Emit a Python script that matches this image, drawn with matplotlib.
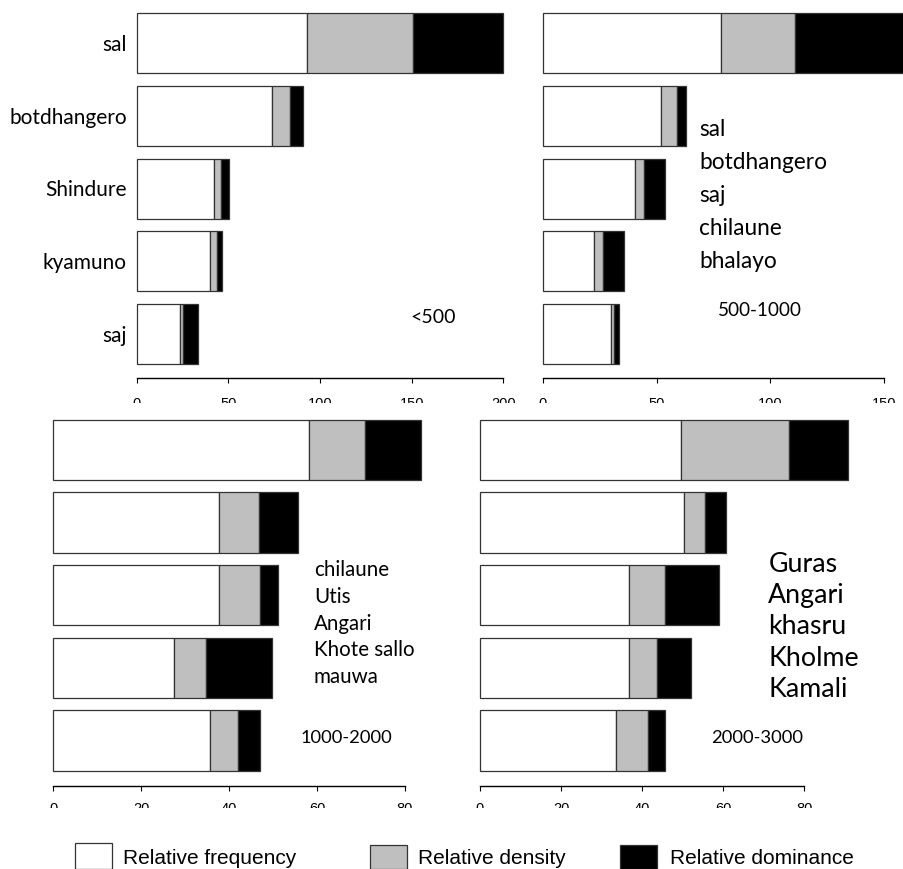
import matplotlib
matplotlib.use("Agg")
import matplotlib.pyplot as plt
from matplotlib.patches import Rectangle

# ---- data -------------------------------------------------------------
series_names = ["Relative frequency", "Relative density", "Relative dominance"]
series_colors = ["white", "#bfbfbf", "black"]

zone_lt500 = "<500"
species_lt500 = ["sal", "botdhangero", "Shindure", "kyamuno", "saj"]
freq_lt500 = [93.0, 74.0, 42.4, 40.2, 23.5]
dens_lt500 = [57.5, 9.5, 3.8, 3.6, 1.8]
dom_lt500 = [49.5, 7.3, 4.0, 2.9, 8.1]

zone_500_1000 = "500-1000"
species_500_1000 = ["sal", "botdhangero", "saj", "chilaune", "bhalayo"]
freq_500_1000 = [78.3, 52.0, 40.7, 22.5, 30.1]
dens_500_1000 = [32.6, 7.1, 3.8, 4.1, 1.1]
dom_500_1000 = [50.0, 3.7, 9.1, 9.2, 2.4]

zone_1000_2000 = "1000-2000"
species_1000_2000 = ["chilaune", "Utis", "Angari", "Khote sallo", "mauwa"]
freq_1000_2000 = [58.2, 37.6, 37.6, 27.4, 35.6]
dens_1000_2000 = [12.7, 9.2, 9.4, 7.3, 6.5]
dom_1000_2000 = [12.7, 8.9, 4.0, 15.0, 4.9]

zone_2000_3000 = "2000-3000"
species_2000_3000 = ["Guras", "Angari", "khasru", "Kholme", "Kamali"]
freq_2000_3000 = [49.5, 50.4, 36.7, 36.7, 33.5]
dens_2000_3000 = [26.7, 5.2, 8.9, 7.0, 7.9]
dom_2000_3000 = [14.5, 5.1, 13.3, 8.3, 4.2]

ticks_lt500 = [0, 50, 100, 150, 200]
ticks_500_1000 = [0, 50, 100, 150]
ticks_high = [0, 20, 40, 60, 80]

# ---- layout helpers (figure pixels, origin top-left) -------------------
W, H = 904, 869
fig = plt.figure(figsize=(W / 100, H / 100), dpi=100)

LABEL_FONT = "Lato"
TICK_FONT = "Liberation Sans"
EDGE = "#333333"


def fx(px):
    return px / W


def fy(py):
    return 1 - py / H


def stacked_panel(x0_px, x1_px, axis_y_px, top_px, first_center_px, pitch_px,
                  bar_px, xmax, ticks, freq, dens, dom, tick_pad,
                  names=None):
    ax = fig.add_axes([fx(x0_px), fy(axis_y_px),
                       (x1_px - x0_px) / W, (axis_y_px - top_px) / H])
    n = len(freq)
    pos = [n - 1 - i for i in range(n)]          # first species on top
    y_top = (n - 1) + (first_center_px - top_px) / pitch_px
    y_bot = (n - 1) - (axis_y_px - first_center_px) / pitch_px
    ax.set_ylim(y_bot, y_top)
    ax.set_xlim(0, xmax)
    h = bar_px / pitch_px
    left = [0.0] * n
    for vals, col in zip((freq, dens, dom), series_colors):
        ax.barh(pos, vals, left=left, height=h, color=col, edgecolor=EDGE,
                linewidth=0.9, clip_on=False)
        left = [l + v for l, v in zip(left, vals)]
    for s in ("top", "right", "left"):
        ax.spines[s].set_visible(False)
    ax.spines["bottom"].set_linewidth(1.0)
    ax.set_xticks(ticks)
    ax.set_xticklabels([str(t) for t in ticks], fontfamily=TICK_FONT,
                       fontsize=10.5)
    ax.tick_params(axis="x", length=3.8, width=0.8, pad=tick_pad,
                   direction="out")
    if names is not None:
        ax.set_yticks(pos)
        ax.set_yticklabels(names, fontfamily=LABEL_FONT, fontsize=15)
        ax.tick_params(axis="y", length=0, pad=7)
    else:
        ax.set_yticks([])
    ax.patch.set_alpha(0)
    return ax


# top row
stacked_panel(136.7, 503.3, 378.3, 0, 43.3, 72.6, 60, 200, ticks_lt500,
              freq_lt500, dens_lt500, dom_lt500, 9.4, names=species_lt500)
stacked_panel(542.7, 884.3, 378.3, 0, 43.3, 72.6, 60, 150, ticks_500_1000,
              freq_500_1000, dens_500_1000, dom_500_1000, 9.4)
# bottom row
stacked_panel(53.3, 405.0, 786.0, 403, 450.0, 72.6, 60.5, 80, ticks_high,
              freq_1000_2000, dens_1000_2000, dom_1000_2000, 8.0)
stacked_panel(480.0, 804.3, 786.0, 403, 450.0, 72.6, 60.5, 80, ticks_high,
              freq_2000_3000, dens_2000_3000, dom_2000_3000, 8.0)

# species lists and elevation zones beside each panel
def species_list(names, x_px, first_base_px, step_px, size):
    for i, name in enumerate(names):
        fig.text(fx(x_px), fy(first_base_px + i * step_px), name,
                 fontfamily=LABEL_FONT, fontsize=size, va="baseline",
                 ha="left")


species_list(species_500_1000, 699.3, 136.0, 33.1, 16.3)
species_list(species_1000_2000, 314.0, 576.0, 26.8, 14.8)
species_list(species_2000_3000, 768.3, 571.7, 31.4, 19.3)

for label, x_px, y_px, size in ((zone_lt500, 410, 322.7, 14),
                                (zone_500_1000, 718, 316.0, 13.6),
                                (zone_1000_2000, 301, 742.7, 13.2),
                                (zone_2000_3000, 710.7, 742.7, 13.2)):
    fig.text(fx(x_px), fy(y_px), label, fontfamily=LABEL_FONT, fontsize=size,
             va="baseline", ha="left")

# white bands where the lower panels and the key sit over the tick labels
fig.add_artist(Rectangle((0, fy(418)), 1, (418 - 403.3) / H,
                         transform=fig.transFigure, facecolor="white",
                         edgecolor="none", zorder=10))
fig.add_artist(Rectangle((0, 0), 1, (H - 807.7) / H,
                         transform=fig.transFigure, facecolor="white",
                         edgecolor="none", zorder=10))

# key
key_boxes = [(75, 842.7), (370, 845), (620, 845)]
key_text_x = [123.3, 418.3, 670]
for (bx, by), tx, name, col in zip(key_boxes, key_text_x, series_names,
                                   series_colors):
    fig.add_artist(Rectangle((fx(bx), 0), 36.7 / W, (H - by) / H,
                             transform=fig.transFigure, facecolor=col,
                             edgecolor=EDGE, linewidth=0.9, zorder=11))
    fig.text(fx(tx), fy(864.3), name, fontfamily=TICK_FONT, fontsize=15,
             va="baseline", ha="left", zorder=12)

fig.savefig("out.png", dpi=100, facecolor="white")
